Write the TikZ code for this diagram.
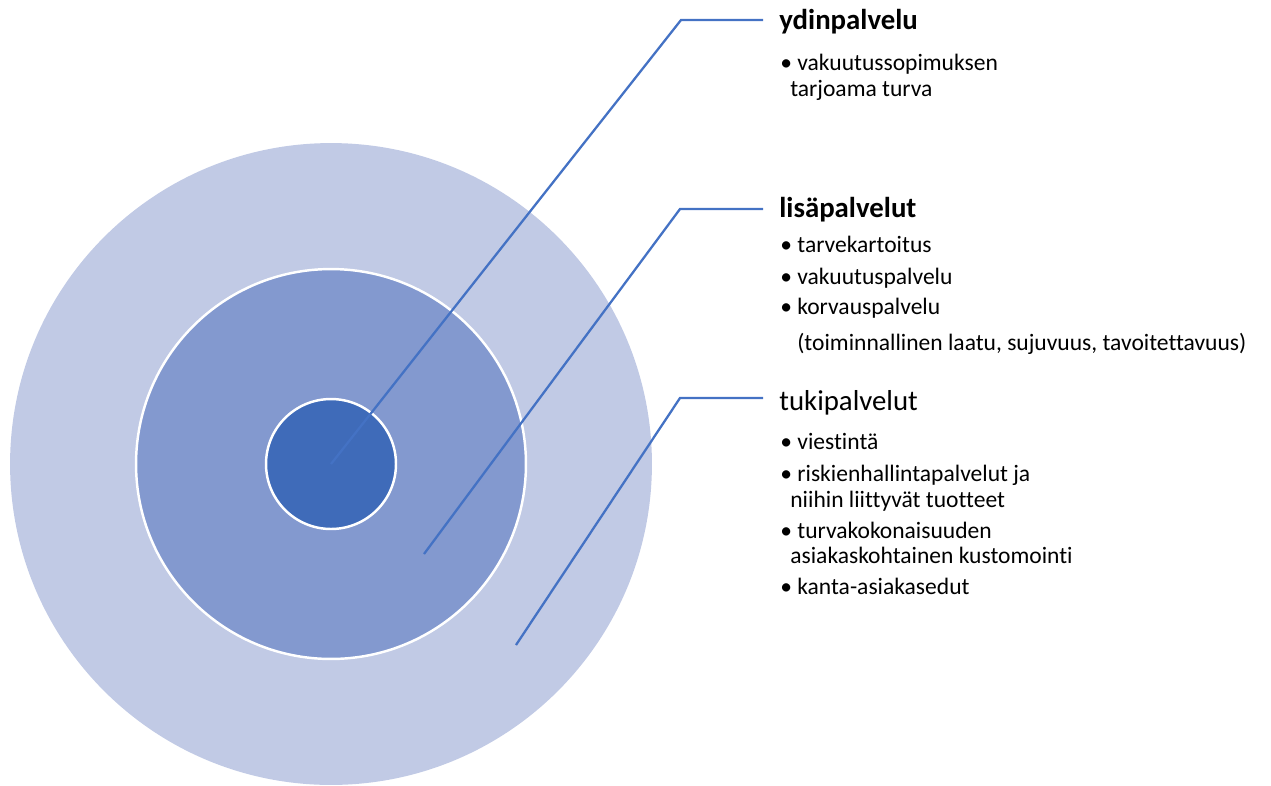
\documentclass[tikz,border=0pt]{standalone}
\usepackage{fontspec}
\setmainfont{Carlito}[Ligatures={NoCommon,NoContextual}]
\usepackage{xcolor}
\usetikzlibrary{positioning}
\definecolor{ringouter}{RGB}{193,202,229}
\definecolor{ringmiddle}{RGB}{131,153,207}
\definecolor{ringinner}{RGB}{63,107,185}
\definecolor{leadblue}{RGB}{68,114,196}

\begin{document}
\begin{tikzpicture}[x=0.02cm,y=-0.02cm,
		ring/.style={draw=white,line width=1.4pt},
		leader/.style={leadblue,line width=1.3pt},
		head/.style={anchor=base west,inner sep=0pt,font=\fontsize{16.4}{19}\selectfont},
		item/.style={anchor=base west,inner sep=0pt,font=\fontsize{13.4}{16}\selectfont}]
	\useasboundingbox (0,0) rectangle (1271,785);
	% rings
	\coordinate (mid) at (331,464);
	\fill[ringouter] (mid) circle[radius=6.42cm];
	\filldraw[ring,fill=ringmiddle] (mid) circle[radius=3.9cm];
	\filldraw[ring,fill=ringinner] (mid) circle[radius=1.3cm];
	% leader points
	\coordinate (ydinstart) at (mid);
	\coordinate (ydinknee) at (681,20);
	\coordinate (ydinend) at (763,20);
	\coordinate (lisastart) at (424,554);
	\coordinate (lisaknee) at (680,209);
	\coordinate (lisaend) at (763,209);
	\coordinate (tukistart) at (516,645);
	\coordinate (tukiknee) at (680,398);
	\coordinate (tukiend) at (763,398);
	\draw[leader] (ydinstart)--(ydinknee)--(ydinend);
	\draw[leader] (lisastart)--(lisaknee)--(lisaend);
	\draw[leader] (tukistart)--(tukiknee)--(tukiend);
	% texts
	\node[head] (ydin) at (779,29) {\bfseries ydinpalvelu};
	\node[item] (ydina) at (780,70) {• vakuutussopimuksen};
	\node[item] (ydinb) at (790,96) {tarjoama turva};
	\node[head] (lisa) at (779,217) {\bfseries lisäpalvelut};
	\node[item] (lisaa) at (780,252) {• tarvekartoitus};
	\node[item] (lisab) at (780,284) {• vakuutuspalvelu};
	\node[item] (lisac) at (780,314) {• korvauspalvelu};
	\node[item] (lisad) at (797,350) {(toiminnallinen laatu, sujuvuus, tavoitettavuus)};
	\node[head] (tuki) at (779,410) {tukipalvelut};
	\node[item] (tukia) at (780,449) {• viestintä};
	\node[item] (tukib) at (780,481) {• riskienhallintapalvelut ja};
	\node[item] (tukic) at (790,507) {niihin liittyvät tuotteet};
	\node[item] (tukid) at (780,538) {• turvakokonaisuuden};
	\node[item] (tukie) at (790,563) {asiakaskohtainen kustomointi};
	\node[item] (tukif) at (780,594) {• kanta-asiakasedut};
\end{tikzpicture}
\end{document}
